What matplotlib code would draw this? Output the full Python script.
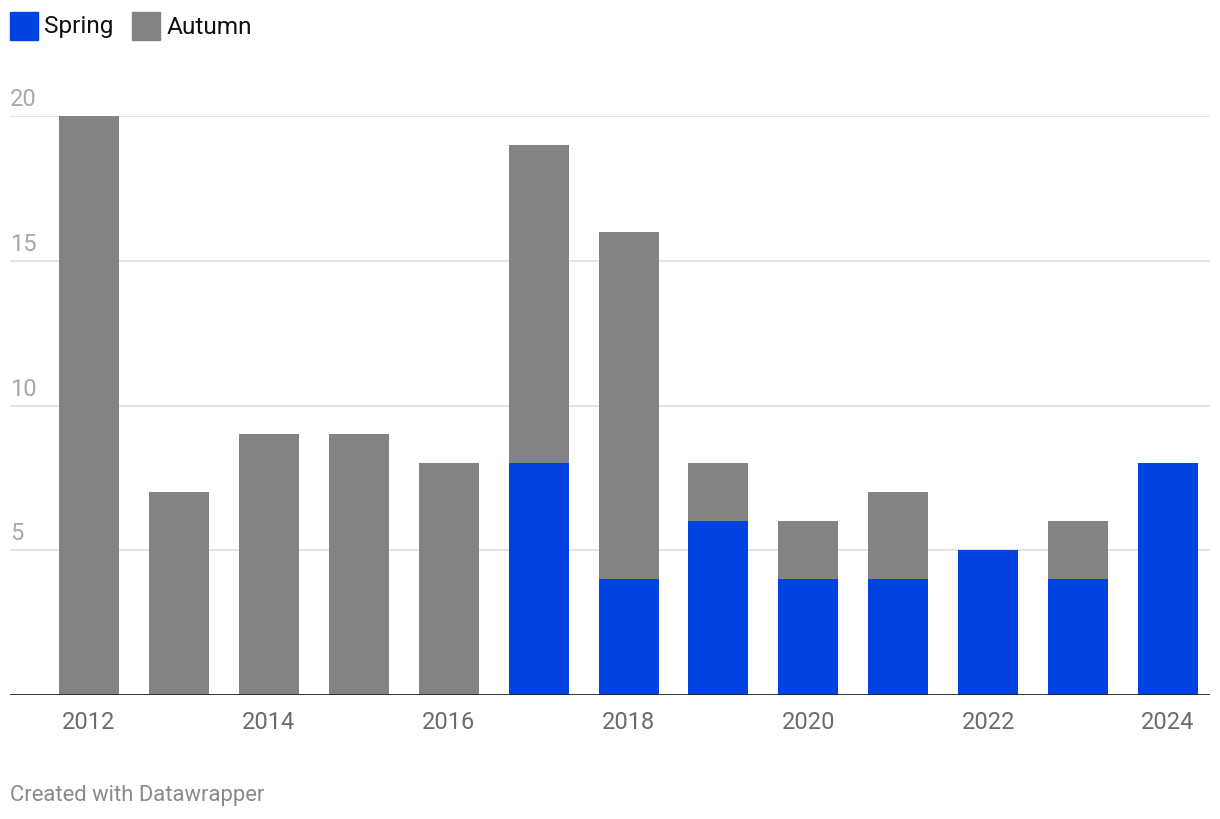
import matplotlib.pyplot as plt

plt.rcParams['font.family'] = ['Roboto', 'DejaVu Sans']

years = [2012, 2013, 2014, 2015, 2016, 2017, 2018, 2019, 2020, 2021, 2022, 2023, 2024]
spring = [0, 0, 0, 0, 0, 8, 4, 6, 4, 4, 5, 4, 8]
autumn = [20, 7, 9, 9, 8, 11, 12, 2, 2, 3, 0, 2, 0]
y_ticks = [5, 10, 15, 20]
x_labels = [2012, 2014, 2016, 2018, 2020, 2022, 2024]

BLUE = '#0043e0'
GREY = '#838383'

W, H = 1220, 820
fig = plt.figure(figsize=(12.2, 8.2), dpi=100)
ax = fig.add_axes([10 / W, 1 - 696 / H, 1200 / W, (696 - 117) / H])

ax.bar(years, spring, width=0.667, color=BLUE, zorder=3)
ax.bar(years, autumn, width=0.667, bottom=spring, color=GREY, zorder=3)

ax.set_xlim(2012 - 0.879, 2024 + 0.467)
ax.set_ylim(0, 20)

for t in y_ticks:
    ax.axhline(t, color='#e1e1e1', lw=1.3, zorder=1)
    ax.text(2012 - 0.879, t + 0.2, str(t), color='#a8a8a8', fontsize=17,
            ha='left', va='bottom', zorder=4)
ax.axhline(0, color='#222222', lw=2, zorder=4)

for s in ax.spines.values():
    s.set_visible(False)
ax.set_yticks([])
ax.set_xticks(x_labels)
ax.set_xticklabels([str(x) for x in x_labels], color='#6b6b6b', fontsize=17)
ax.tick_params(axis='x', length=0, pad=11)

# legend
fig.patches.append(plt.Rectangle((10 / W, 1 - 41 / H), 28 / W, 28 / H,
                                 transform=fig.transFigure, color=BLUE))
fig.text(44 / W, 1 - 27 / H, 'Spring', fontsize=17.6, color='#111111', va='center')
fig.patches.append(plt.Rectangle((132 / W, 1 - 41 / H), 28 / W, 28 / H,
                                 transform=fig.transFigure, color=GREY))
fig.text(167 / W, 1 - 27 / H, 'Autumn', fontsize=17.6, color='#111111', va='center')

fig.text(10 / W, 1 - 796 / H, 'Created with Datawrapper', fontsize=15.8,
         color='#8a8a8a', va='center')

fig.savefig('out.png', dpi=100)
